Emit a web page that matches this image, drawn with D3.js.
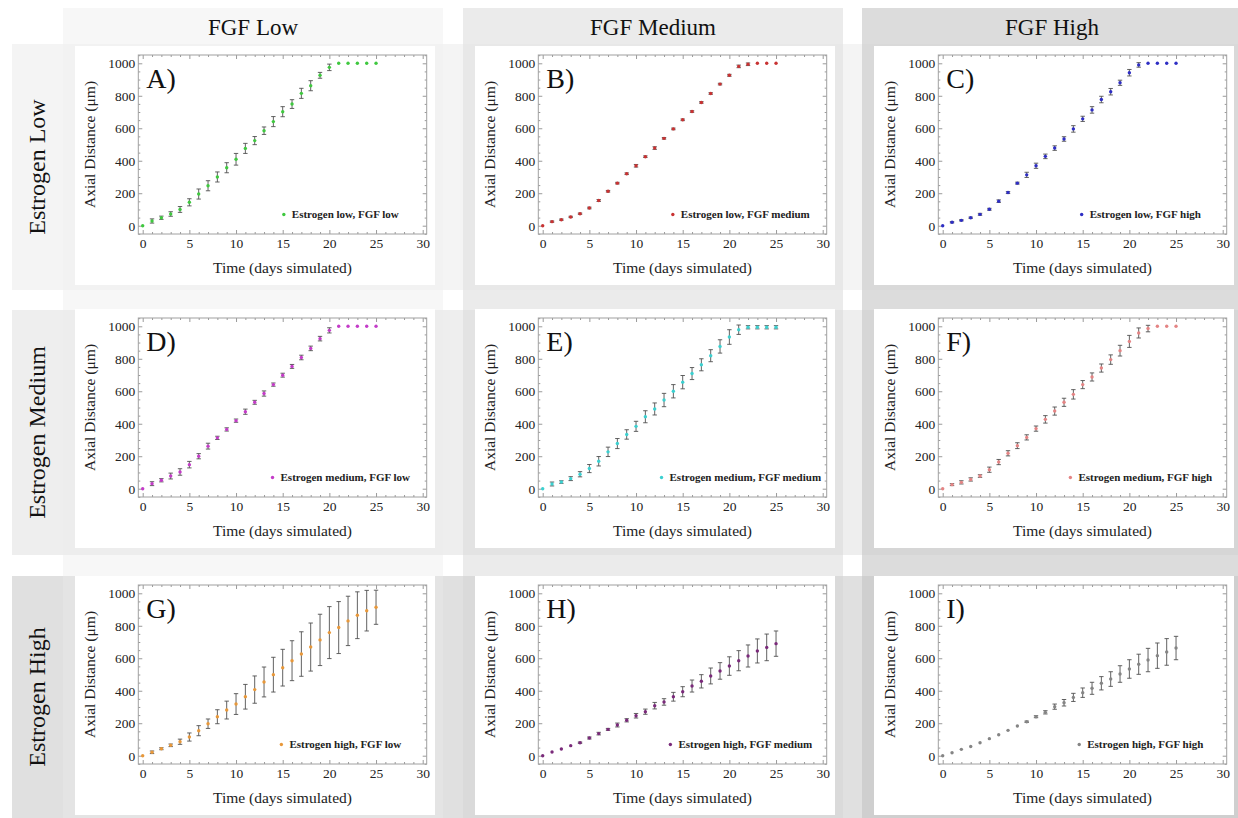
<!DOCTYPE html>
<html><head><meta charset="utf-8">
<script src="https://cdn.jsdelivr.net/npm/d3@7"></script>
<style>
body{margin:0;background:#fff;}
svg, svg text{font-family:'Liberation Serif','Times New Roman',Times,'DejaVu Serif',serif;}
</style>
</head><body>
<svg id="chart" width="1238" height="818"></svg>
<script>
// ---------- DATA ----------
const days = [0,1,2,3,4,5,6,7,8,9,10,11,12,13,14,15,16,17,18,19,20,21,22,23,24,25];
const colHeaders = ["FGF Low", "FGF Medium", "FGF High"];
const rowHeaders = ["Estrogen Low", "Estrogen Medium", "Estrogen High"];
const panelLetters = ["A)","B)","C)","D)","E)","F)","G)","H)","I)"];
const legendLabels = [
  "Estrogen low, FGF low", "Estrogen low, FGF medium", "Estrogen low, FGF high",
  "Estrogen medium, FGF low", "Estrogen medium, FGF medium", "Estrogen medium, FGF high",
  "Estrogen high, FGF low", "Estrogen high, FGF medium", "Estrogen high, FGF high"
];
const xTicks = [0,5,10,15,20,25,30];
const yTicks = [0,200,400,600,800,1000];
const xTitle = "Time (days simulated)";
const yTitle = "Axial Distance (\u03bcm)";

const meansA = [0,29,49,72,100,144,195,246,300,357,409,476,524,585,641,702,749,815,862,926,975,1000,1000,1000,1000,1000];
const errorsA = [0,13,10,14,18,22,31,31,31,31,36,31,25,23,31,31,27,31,31,18,20,0,0,0,0,0];
const meansB = [0,25,37,54,74,109,155,212,262,320,369,425,478,538,596,652,703,759,814,872,926,981,994,1000,1000,1000];
const errorsB = [0,4,4,4,4,5,6,5,5,5,8,5,8,5,5,5,5,5,5,5,6,8,8,0,0,0];
const meansC = [0,21,33,49,70,101,151,204,262,313,369,427,478,534,596,658,713,777,825,880,942,990,1000,1000,1000,1000];
const errorsC = [0,4,4,4,6,6,8,6,6,16,16,14,14,14,20,16,20,20,20,16,20,14,0,0,0,0];
const meansD = [0,31,52,78,103,148,200,262,313,365,419,474,532,586,641,699,753,808,864,924,975,1000,1000,1000,1000,1000];
const errorsD = [0,12,10,18,20,20,16,18,10,10,10,16,12,16,10,12,12,14,14,14,16,0,0,0,0,0];
const meansE = [0,29,41,62,89,124,169,227,278,334,384,443,491,546,600,656,709,763,819,876,934,979,994,994,994,994];
const errorsE = [0,12,8,12,16,25,29,29,31,29,31,37,37,41,41,41,37,37,37,41,45,29,10,10,10,10];
const meansF = [0,25,39,57,78,117,164,218,265,316,370,427,478,532,581,641,688,743,795,850,907,959,986,1000,1000,1000];
const errorsF = [0,6,10,10,8,16,16,16,18,16,16,23,25,25,29,25,25,25,29,33,37,31,20,0,0,0];
const meansG = [0,21,43,64,86,115,154,197,240,281,318,363,407,454,499,542,585,626,669,713,758,789,830,865,893,914];
const errorsG = [0,8,6,8,16,25,31,29,43,55,64,76,84,92,107,113,123,137,148,158,160,160,152,144,125,105];
const meansH = [0,23,41,62,80,109,136,162,189,218,246,271,308,331,363,394,429,458,491,522,552,585,614,645,667,690];
const errorsH = [0,0,0,0,4,6,8,6,12,10,14,16,20,20,27,31,37,41,49,51,57,62,68,74,82,78];
const meansI = [0,18,39,57,80,105,129,156,183,209,240,267,302,326,359,388,415,446,472,503,534,563,589,616,639,663];
const errorsI = [0,0,0,0,0,0,0,0,0,4,6,10,16,20,25,29,37,41,45,51,57,62,72,78,82,72];

// ---------- STYLE / LAYOUT ----------
const FONT = "'Liberation Serif','Times New Roman',Times,serif";
const pointColors = ["#3fc83f","#c83232","#2e2ec4","#c43cc8","#3cd0d0","#e48484","#e8983a","#7a2a7a","#858585"];
const colBandColors = ["#f7f7f7","#ebebeb","#dcdcdc"];
const rowBandColors = ["#f4f4f4","#eeeeee","#e0e0e0"];
const cellColors = [["#f2f2f2","#e8e8e8","#d9d9d9"],["#ededed","#e3e3e3","#d6d6d6"],["#e4e4e4","#dadada","#cfcfcf"]];

const colX = [63, 463, 862], colW = 380;
const rowY = [44, 310, 576], rowH = [246, 245, 242];
const frameLefts = [138.3, 538.3, 938.3];
const frameTops = [55, 318, 585];

const seriesMeans = [meansA,meansB,meansC,meansD,meansE,meansF,meansG,meansH,meansI];
const seriesErrors = [errorsA,errorsB,errorsC,errorsD,errorsE,errorsF,errorsG,errorsH,errorsI];

const svg = d3.select("#chart").attr("font-family", FONT);

// backgrounds
colX.forEach((cx,i)=>svg.append("rect").attr("x",cx).attr("y",8).attr("width",colW).attr("height",810).attr("fill",colBandColors[i]));
rowY.forEach((ry,i)=>svg.append("rect").attr("x",12).attr("y",ry).attr("width",1226).attr("height",rowH[i]).attr("fill",rowBandColors[i]));
rowY.forEach((ry,r)=>colX.forEach((cx,c)=>svg.append("rect").attr("x",cx).attr("y",ry).attr("width",colW).attr("height",rowH[r]).attr("fill",cellColors[r][c])));

// headers
colHeaders.forEach((h,i)=>svg.append("text").attr("x",colX[i]+colW/2).attr("y",35)
  .attr("font-family",FONT).attr("text-anchor","middle").attr("font-size",23).attr("fill","#111").text(h));
rowHeaders.forEach((h,i)=>svg.append("text")
  .attr("transform",`translate(45,${rowY[i]+rowH[i]/2}) rotate(-90)`)
  .attr("font-family",FONT).attr("text-anchor","middle").attr("font-size",24).attr("fill","#111").text(h));

// panels
for (let r=0;r<3;r++) for (let c=0;c<3;c++){
  const k = r*3+c;
  const fl = frameLefts[c], ft = frameTops[r];
  const fr = fl+288.4, fb = ft+179;
  const g = svg.append("g").attr("font-family",FONT);
  g.append("rect").attr("x",colX[c]+12).attr("y",ft-9).attr("width",360).attr("height",239).attr("fill","#fff");

  const x = d3.scaleLinear().domain([0,30]).range([fl+4.4, fl+284.4]);
  const y = d3.scaleLinear().domain([0,1000]).range([ft+170.7, ft+8.3]);
  const xMinor = d3.range(0,31,1).filter(v=>v%5!==0);
  const yMinor = d3.range(-50,1051,50).filter(v=>v%200!==0);
  const fmt = d3.format("d");

  const styleAxis = (sel)=>{ sel.attr("font-family",FONT); sel.select(".domain").remove(); sel.selectAll("line").attr("stroke","#9a9a9a");
    sel.selectAll("text").attr("font-family",FONT).attr("font-size",13.5).attr("fill","#222"); };

  g.append("g").attr("transform",`translate(0,${fb})`)
    .call(d3.axisBottom(x).tickValues(xTicks).tickFormat(fmt).tickSize(-4).tickPadding(3).tickSizeOuter(0)).call(styleAxis)
    .selectAll("text").attr("dy","0.71em").attr("y",4);
  g.append("g").attr("transform",`translate(0,${fb})`)
    .call(d3.axisBottom(x).tickValues(xMinor).tickSize(-2).tickFormat("").tickSizeOuter(0)).call(styleAxis);
  g.append("g").attr("transform",`translate(0,${ft})`)
    .call(d3.axisTop(x).tickValues(xTicks).tickSize(-4).tickFormat("").tickSizeOuter(0)).call(styleAxis);
  g.append("g").attr("transform",`translate(0,${ft})`)
    .call(d3.axisTop(x).tickValues(xMinor).tickSize(-2).tickFormat("").tickSizeOuter(0)).call(styleAxis);
  g.append("g").attr("transform",`translate(${fl},0)`)
    .call(d3.axisLeft(y).tickValues(yTicks).tickFormat(fmt).tickSize(-4).tickPadding(3).tickSizeOuter(0)).call(styleAxis);
  g.append("g").attr("transform",`translate(${fl},0)`)
    .call(d3.axisLeft(y).tickValues(yMinor).tickSize(-2).tickFormat("").tickSizeOuter(0)).call(styleAxis);
  g.append("g").attr("transform",`translate(${fr},0)`)
    .call(d3.axisRight(y).tickValues(yTicks).tickSize(-4).tickFormat("").tickSizeOuter(0)).call(styleAxis);
  g.append("g").attr("transform",`translate(${fr},0)`)
    .call(d3.axisRight(y).tickValues(yMinor).tickSize(-2).tickFormat("").tickSizeOuter(0)).call(styleAxis);

  g.append("rect").attr("x",fl).attr("y",ft).attr("width",fr-fl).attr("height",fb-ft)
    .attr("fill","none").attr("stroke","#a0a0a0").attr("stroke-width",1);

  // titles
  g.append("text").attr("x",(fl+fr)/2).attr("y",fb+39).attr("text-anchor","middle")
    .attr("font-family",FONT).attr("font-size",15.5).attr("fill","#222").text(xTitle);
  g.append("text").attr("transform",`translate(${fl-43},${(ft+fb)/2}) rotate(-90)`).attr("text-anchor","middle")
    .attr("font-family",FONT).attr("font-size",15.5).attr("fill","#222").text(yTitle);
  g.append("text").attr("x",fl+8).attr("y",ft+33).attr("font-family",FONT).attr("font-size",28).attr("fill","#111").text(panelLetters[k]);

  // data
  const data = days.map((d,i)=>({d, m:seriesMeans[k][i], e:seriesErrors[k][i]}));
  const eb = g.append("g").attr("stroke","#505050").attr("stroke-width",0.9);
  data.filter(p=>p.e>0).forEach(p=>{
    const px = x(p.d), y1 = y(p.m-p.e), y2 = y(p.m+p.e);
    eb.append("line").attr("x1",px).attr("x2",px).attr("y1",y1).attr("y2",y2);
    eb.append("line").attr("x1",px-2.2).attr("x2",px+2.2).attr("y1",y1).attr("y2",y1);
    eb.append("line").attr("x1",px-2.2).attr("x2",px+2.2).attr("y1",y2).attr("y2",y2);
  });
  g.append("g").selectAll("circle").data(data).join("circle")
    .attr("cx",p=>x(p.d)).attr("cy",p=>y(p.m)).attr("r",1.7).attr("fill",pointColors[k]);

  // legend
  const lt = g.append("text").attr("x",fl+207).attr("y",ft+163).attr("text-anchor","middle")
    .attr("font-family",FONT).attr("font-size",11).attr("font-weight","bold").attr("fill","#222").text(legendLabels[k]);
  const w = lt.node().getComputedTextLength();
  g.append("circle").attr("cx",fl+207-w/2-8).attr("cy",ft+159.5).attr("r",1.7).attr("fill",pointColors[k]);
}
</script>
</body></html>
